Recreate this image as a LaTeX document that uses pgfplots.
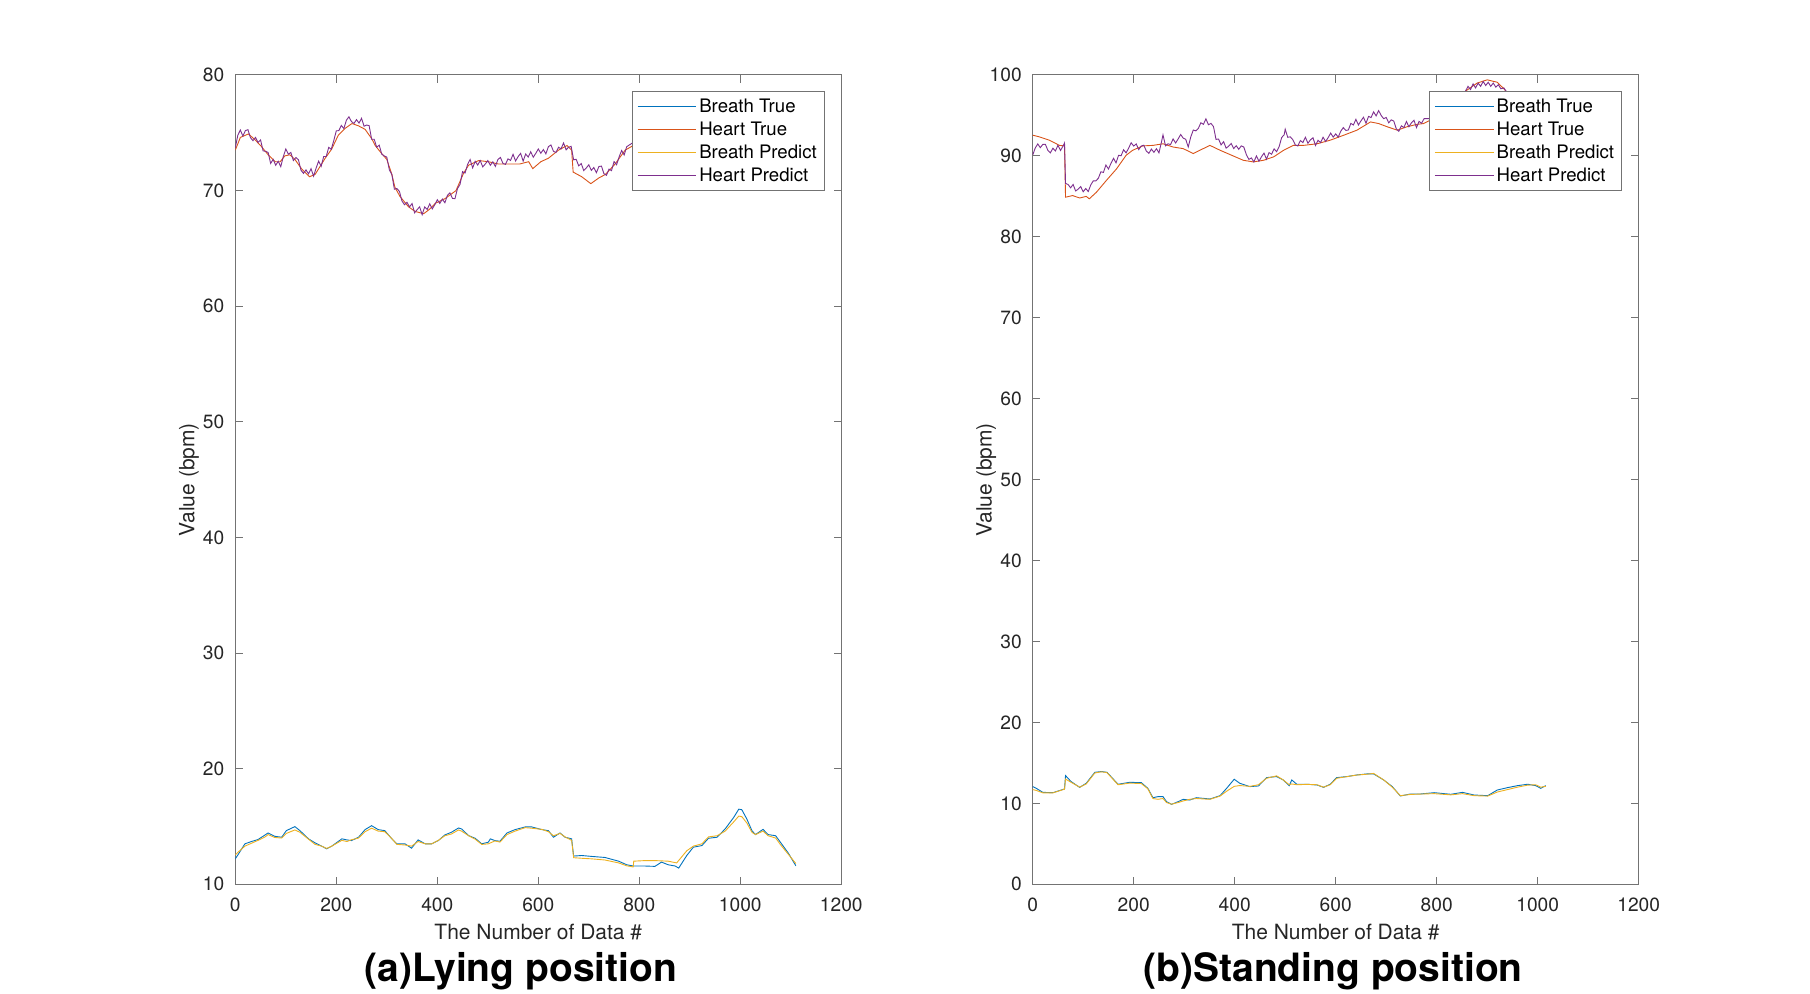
\documentclass[border=0pt]{standalone}
\usepackage{fontspec}
\setmainfont{TeX Gyre Heros}
\usepackage{pgfplots}
\pgfplotsset{compat=1.18}
\definecolor{mblue}{rgb}{0,0.447,0.741}
\definecolor{morange}{rgb}{0.85,0.325,0.098}
\definecolor{myellow}{rgb}{0.929,0.694,0.125}
\definecolor{mpurple}{rgb}{0.494,0.184,0.556}
\definecolor{axgray}{rgb}{0.45,0.45,0.45}
\definecolor{txt}{rgb}{0.15,0.15,0.15}

\pgfplotsset{
  myaxis/.style={
    scale only axis, width=303pt, height=404.65pt,
    anchor=south west,
    xmin=0, xmax=1200, xtick={0,200,...,1200},
    tick align=inside, tick pos=both,
    major tick length=3.8pt,
    axis line style={axgray, line width=0.5pt},
    every tick/.style={axgray, line width=0.5pt},
    tick label style={font=\fontsize{9.6}{11}\selectfont, text=txt},
    /pgf/number format/assume math mode=true,
    /pgf/number format/1000 sep={},
    xticklabel style={anchor=base, yshift=-13.7pt},
    yticklabel style={anchor=east, xshift=-1.95pt},
    xlabel={The Number of Data \#},
    ylabel={Value (bpm)},
    xlabel style={at={(axis description cs:0.5,-0.0688)}, anchor=base, font=\fontsize{10.5}{12}\selectfont, text=txt},
    ylabel style={at={(axis description cs:-0.0677,0.5)}, anchor=base, font=\fontsize{10.5}{12}\selectfont, text=txt},
    legend style={at={(rel axis cs:1,1)}, anchor=north east, xshift=-8.3pt, yshift=-8pt,
      draw=axgray, line width=0.5pt, fill=white,
      font=\fontsize{9.3}{11}\selectfont, text=black,
      inner xsep=2.5pt, inner ysep=1.8pt, row sep=0pt,
      nodes={inner sep=1.25pt, text height=7.4pt, text depth=1.6pt}},
    legend cell align=left,
    legend image code/.code={\draw[#1, line width=0.5pt] (0pt,0pt) -- (29.4pt,0pt);},
    every axis plot/.append style={line width=0.45pt, mark=none},
  }
}

\begin{document}
\begin{tikzpicture}
\path[use as bounding box] (0,0) rectangle (905pt,497pt);

% ---------------- (a) Lying position ----------------
\begin{axis}[myaxis, at={(117.65pt,54.85pt)}, ymin=10, ymax=80, ytick={10,20,...,80}]
\addplot[mblue] coordinates {
(0,12.2) (6,12.6) (19,13.5) (32,13.7) (45,13.87) (59,14.27) (65,14.44) (78,14.15) (92,14.07) (101,14.64)
(118,14.99) (128,14.64) (145,13.93) (158,13.58) (171,13.3) (181,13.07) (191,13.3) (211,13.93) (221,13.84) (230,13.78)
(244,14.07) (257,14.73) (270,15.07) (283,14.73) (296,14.64) (310,13.93) (320,13.5) (336,13.5) (349,13.12) (362,13.84)
(376,13.5) (389,13.5) (402,13.78) (415,14.27) (428,14.5) (442,14.87) (448,14.79) (462,14.21) (475,13.98) (488,13.5)
(501,13.64) (505,13.93) (514,13.78) (524,13.72) (538,14.44) (554,14.73) (574,14.96) (587,14.96) (607,14.73) (620,14.64)
(630,14.07) (643,14.44) (653,14.07) (666,13.93) (670,12.44) (686,12.49) (706,12.41) (732,12.32) (759,12.0) (775,11.69)
(788,11.58) (811,11.58) (831,11.55) (844,11.92) (857,11.69) (871,11.58) (878,11.4) (894,12.49) (907,13.21) (924,13.35)
(937,13.98) (954,14.07) (970,14.79) (987,15.79) (997,16.5) (1003,16.45) (1013,15.64) (1023,14.64) (1030,14.3) (1045,14.75)
(1055,14.3) (1070,14.2) (1080,13.6) (1095,12.7) (1110,11.6)
};
\addlegendentry{Breath True}
\addplot[morange] coordinates {
(0,73.5) (10,74.6) (26,74.9) (39,74.4) (52,73.8) (65,73.1) (79,72.5) (89,72.5) (98,73.0) (108,73.1)
(118,72.7) (131,71.9) (147,71.2) (158,71.4) (178,72.8) (191,73.6) (204,74.8) (218,75.4) (231,75.8) (244,75.6)
(257,75.3) (270,74.5) (277,73.9) (290,73.2) (300,72.7) (310,71.4) (316,70.3) (326,69.5) (343,68.6) (356,68.2)
(373,68.0) (385,68.4) (396,68.9) (415,69.3) (437,70.0) (452,71.5) (462,72.2) (482,72.6) (501,72.5) (521,72.3)
(541,72.3) (563,72.3) (581,72.5) (589,71.9) (605,72.5) (620,72.8) (640,73.5) (657,73.9) (666,73.5) (669,71.6)
(686,71.2) (704,70.6) (720,71.1) (733,71.4) (752,72.3) (772,73.5) (800,74.2) (850,73.8) (900,73.4) (950,73.9)
(1000,74.3) (1050,74.0) (1110,73.6)
};
\addlegendentry{Heart True}
\addplot[myellow] coordinates {
(0,12.55) (6,12.8) (19,13.3) (32,13.55) (45,13.8) (59,14.1) (65,14.3) (78,14.05) (92,14.0) (101,14.4)
(118,14.7) (128,14.5) (145,13.9) (158,13.45) (171,13.3) (181,13.1) (191,13.3) (211,13.8) (221,13.7) (230,13.85)
(244,14.0) (257,14.55) (270,14.85) (283,14.6) (296,14.55) (310,13.95) (320,13.45) (336,13.4) (349,13.3) (362,13.7)
(376,13.5) (389,13.5) (402,13.8) (415,14.2) (428,14.35) (442,14.7) (448,14.6) (462,14.2) (475,13.9) (488,13.45)
(501,13.5) (514,13.75) (524,13.65) (538,14.3) (554,14.6) (574,14.9) (587,14.85) (607,14.75) (620,14.55) (630,14.2)
(643,14.4) (653,14.1) (666,13.8) (670,12.3) (686,12.25) (706,12.2) (732,12.1) (759,11.85) (775,11.6) (788,11.5)
(789,12.0) (811,12.05) (831,12.05) (857,12.0) (874,11.85) (894,12.9) (907,13.3) (924,13.5) (937,14.1) (954,14.2)
(970,14.6) (987,15.4) (997,15.9) (1003,15.85) (1013,15.3) (1023,14.5) (1030,14.3) (1045,14.6) (1055,14.2) (1070,14.0)
(1080,13.4) (1095,12.6) (1110,11.8)
};
\addlegendentry{Breath Predict}
\addplot[mpurple] coordinates {
(0,73.7) (5,74.8) (10,75.24) (15,74.72) (20,75.19) (25,75.27) (30,74.58) (35,74.32) (40,74.6) (45,74.17)
(50,74.39) (55,73.44) (60,73.4) (65,73.3) (70,72.35) (75,72.7) (80,72.19) (85,72.54) (90,72.07) (95,72.93)
(100,73.6) (105,73.15) (110,73.3) (115,72.6) (120,72.86) (125,72.67) (130,71.77) (135,71.49) (140,71.79) (145,71.45)
(150,71.9) (155,71.25) (160,71.94) (165,72.55) (170,72.1) (175,72.95) (180,72.95) (185,73.74) (190,73.57) (195,74.33)
(200,75.17) (205,75.19) (210,75.63) (215,75.37) (220,76.09) (225,76.38) (230,75.97) (235,75.81) (240,76.14) (245,75.84)
(250,76.25) (255,75.57) (260,75.67) (265,75.62) (270,74.44) (275,74.44) (280,73.76) (285,73.93) (290,73.15) (295,73.0)
(300,72.9) (305,71.8) (310,71.4) (315,70.12) (320,70.18) (325,69.93) (330,69.11) (335,68.78) (340,68.99) (345,68.59)
(350,68.88) (355,68.08) (360,68.35) (365,68.6) (370,67.92) (375,68.59) (380,68.37) (385,68.86) (390,68.42) (395,68.78)
(400,69.21) (405,68.89) (410,69.27) (415,68.95) (420,69.58) (425,69.8) (430,69.33) (435,69.3) (440,70.18) (445,70.54)
(450,71.64) (455,71.52) (460,72.27) (465,72.69) (470,71.96) (475,72.54) (480,72.21) (485,72.6) (490,72.05) (495,72.3)
(500,72.6) (505,72.19) (510,72.49) (515,72.09) (520,72.69) (525,72.87) (530,72.35) (535,72.27) (540,72.75) (545,72.61)
(550,73.14) (555,72.56) (560,72.94) (565,73.22) (570,72.55) (575,73.17) (580,72.9) (585,73.36) (590,72.89) (595,73.22)
(600,73.6) (605,73.23) (610,73.55) (615,73.18) (620,73.8) (625,73.95) (630,73.4) (635,73.3) (640,73.75) (645,73.61)
(650,74.12) (655,73.53) (660,73.75) (665,73.83) (670,72.66) (675,72.71) (680,72.14) (685,72.34) (690,71.73) (695,71.96)
(700,72.23) (705,71.75) (710,72.0) (715,71.55) (720,72.08) (725,72.12) (730,71.46) (735,71.33) (740,71.86) (745,71.73)
(750,72.51) (755,72.24) (760,72.91) (765,73.47) (770,73.08) (775,73.8) (800,74.5) (830,74.2) (860,73.8) (900,73.5)
(940,74.0) (980,74.5) (1020,74.2) (1060,73.8) (1110,73.5)
};
\addlegendentry{Heart Predict}
\end{axis}

% ---------------- (b) Standing position ----------------
\begin{axis}[myaxis, at={(516.35pt,54.85pt)}, ymin=0, ymax=100, ytick={0,10,...,100}]
\addplot[mblue] coordinates {
(0,12.07) (7,11.86) (20,11.36) (40,11.32) (63,11.78) (65,13.43) (76,12.69) (93,11.98) (106,12.48) (123,13.84)
(136,13.93) (147,13.84) (169,12.36) (192,12.6) (215,12.56) (228,11.86) (238,10.7) (248,10.83) (258,10.83) (265,10.21)
(275,9.88) (288,10.21) (298,10.5) (311,10.41) (324,10.7) (351,10.54) (371,10.95) (384,11.86) (399,12.98) (410,12.48)
(430,12.07) (447,12.15) (463,13.18) (483,13.31) (496,12.89) (508,12.19) (513,12.89) (523,12.36) (543,12.36) (563,12.27)
(576,11.98) (589,12.36) (602,13.18) (622,13.31) (642,13.51) (662,13.64) (675,13.64) (695,12.89) (712,12.07) (728,10.91)
(748,11.16) (768,11.16) (795,11.32) (828,11.12) (851,11.36) (874,11.03) (901,10.95) (920,11.65) (940,11.94) (960,12.19)
(980,12.36) (996,12.19) (1006,11.86) (1016,12.19)
};
\addlegendentry{Breath True}
\addplot[morange] coordinates {
(0,92.56) (13,92.36) (33,91.94) (53,91.3) (63,91.24) (65,84.9) (79,85.1) (93,84.8) (106,85.0) (112,84.7)
(126,85.5) (146,86.98) (166,88.4) (185,90.08) (198,90.7) (218,91.24) (238,91.3) (258,91.5) (278,91.1) (298,90.9)
(318,90.29) (331,90.7) (351,91.3) (371,90.7) (391,90.16) (417,89.46) (437,89.26) (457,89.46) (477,89.88) (497,90.7)
(516,91.3) (536,91.3) (563,91.5) (589,91.94) (616,92.56) (642,93.18) (669,94.2) (685,94.0) (702,93.6) (722,93.18)
(741,93.6) (761,93.9) (774,94.0) (800,94.8) (830,96.0) (857,98.0) (880,99.0) (900,99.4) (920,99.1) (933,98.3)
(950,97.0) (980,95.6) (1015,94.8)
};
\addlegendentry{Heart True}
\addplot[myellow] coordinates {
(0,11.7) (7,11.6) (20,11.3) (40,11.3) (63,11.75) (65,13.0) (76,12.6) (93,12.0) (106,12.4) (123,13.75)
(136,13.9) (147,13.8) (169,12.3) (192,12.5) (215,12.45) (228,11.8) (238,10.6) (248,10.5) (258,10.6) (265,10.1)
(275,9.9) (288,10.1) (298,10.3) (311,10.5) (324,10.6) (351,10.5) (371,10.9) (384,11.5) (399,12.1) (410,12.2)
(430,12.1) (447,12.3) (463,13.1) (483,13.4) (496,12.9) (508,12.3) (513,12.4) (523,12.3) (543,12.35) (563,12.3)
(576,12.0) (589,12.3) (602,13.1) (622,13.3) (642,13.5) (662,13.6) (675,13.7) (695,12.9) (712,12.0) (728,10.95)
(748,11.1) (768,11.15) (795,11.2) (828,11.05) (851,11.2) (874,10.95) (901,10.9) (920,11.4) (940,11.7) (960,12.0)
(980,12.25) (996,12.3) (1006,12.0) (1016,12.1)
};
\addlegendentry{Breath Predict}
\addplot[mpurple] coordinates {
(0,90.1) (5,90.98) (10,91.48) (15,91.02) (20,91.42) (25,91.44) (30,90.69) (35,90.38) (40,90.95) (45,90.61)
(50,91.32) (55,90.67) (60,91.21) (63,91.6) (65,86.6) (70,86.47) (75,86.06) (80,86.47) (85,85.67) (90,85.89)
(95,86.21) (100,85.57) (105,85.97) (110,85.6) (115,86.42) (120,86.92) (125,86.92) (130,87.24) (135,88.04) (140,87.96)
(145,88.87) (150,88.38) (155,89.09) (160,89.71) (165,89.14) (170,90.08) (175,90.02) (180,90.76) (185,90.37) (190,90.98)
(195,91.62) (200,91.22) (205,91.48) (210,90.78) (215,91.23) (220,91.32) (225,90.6) (230,90.32) (235,90.85) (240,90.44)
(245,90.89) (250,90.38) (255,91.73) (258,92.6) (263,91.25) (268,91.5) (273,91.4) (278,92.1) (283,91.6) (288,92.1)
(293,92.65) (298,92.2) (303,92.05) (308,91.1) (313,92.35) (318,93.2) (323,93.1) (328,93.4) (333,94.1) (338,93.9)
(343,94.58) (348,93.85) (353,94.02) (358,93.62) (363,92.04) (368,92.09) (373,91.36) (378,91.76) (383,90.96) (388,91.2)
(393,91.54) (398,90.91) (403,91.26) (408,90.82) (413,91.24) (418,91.1) (423,90.17) (428,89.57) (433,89.75) (438,89.26)
(443,90.0) (448,89.34) (453,89.89) (458,90.35) (463,89.6) (468,90.41) (473,90.21) (478,90.87) (483,90.52) (488,91.16)
(493,92.27) (498,92.62) (500,93.3) (505,92.3) (510,92.36) (515,92.01) (520,91.36) (525,91.23) (530,91.9) (535,91.65)
(540,92.31) (545,91.56) (550,91.99) (555,92.24) (560,91.29) (565,91.94) (570,91.64) (575,92.31) (580,91.79) (585,92.26)
(590,92.82) (595,92.32) (600,92.72) (605,92.32) (610,93.05) (615,93.5) (620,93.15) (625,93.2) (630,94.02) (635,93.82)
(640,94.52) (645,93.82) (650,94.33) (655,94.78) (660,94.03) (665,94.88) (670,94.74) (675,95.44) (680,94.95) (685,95.6)
(690,95.0) (695,94.6) (700,94.75) (705,94.09) (710,94.46) (715,94.3) (720,93.34) (725,93.05) (730,93.72) (735,93.5)
(740,94.25) (745,93.61) (750,94.1) (755,94.4) (760,93.5) (765,94.26) (770,94.04) (775,94.6) (790,94.6) (805,95.2)
(820,95.8) (835,96.5) (850,97.4) (857,98.0) (862,98.6) (867,98.2) (872,98.9) (877,98.4) (882,99.0) (887,98.6)
(892,99.2) (897,98.7) (902,99.1) (907,98.6) (912,99.0) (917,98.5) (922,98.8) (927,98.3) (933,98.4) (945,97.3)
(960,96.2) (980,95.5) (1000,95.0) (1015,94.6)
};
\addlegendentry{Heart Predict}
\end{axis}

\node[anchor=base, font=\bfseries\fontsize{19.5}{22}\selectfont] at (260.5pt,6.15pt) {(a)Lying position};
\node[anchor=base, font=\bfseries\fontsize{19.5}{22}\selectfont] at (666.5pt,6.15pt) {(b)Standing position};
\end{tikzpicture}
\end{document}
